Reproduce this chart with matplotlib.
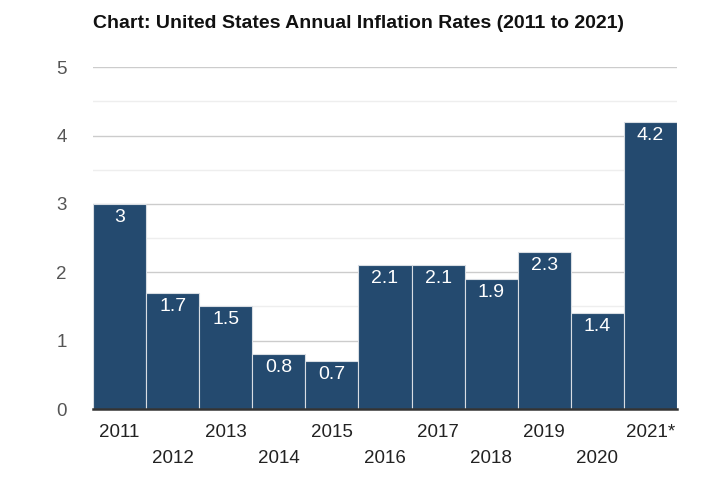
import matplotlib.pyplot as plt

years = ['2011', '2012', '2013', '2014', '2015', '2016', '2017', '2018', '2019', '2020', '2021*']
rates = [3, 1.7, 1.5, 0.8, 0.7, 2.1, 2.1, 1.9, 2.3, 1.4, 4.2]

plt.rcParams['font.family'] = ['Liberation Sans', 'DejaVu Sans']

fig = plt.figure(figsize=(7.03, 4.9), dpi=100)
ax = fig.add_axes([0.1323, 0.1653, 0.963 - 0.1323, 0.863 - 0.1653])

x = list(range(len(years)))
bars = ax.bar(x, rates, width=1.0, color='#244a6f', edgecolor='#d8dde3', linewidth=0.8, zorder=3)

ax.set_xlim(-0.5, len(years) - 0.5)
ax.set_ylim(0, 5)
ax.set_yticks([0, 1, 2, 3, 4, 5])
ax.set_yticks([0.5, 1.5, 2.5, 3.5, 4.5], minor=True)
ax.grid(axis='y', which='major', color='#cccccc', linewidth=1, zorder=0)
ax.grid(axis='y', which='minor', color='#eeeeee', linewidth=1, zorder=0)
ax.tick_params(axis='y', which='both', length=0, labelsize=13.5, labelcolor='#555555', pad=19)

for s in ['top', 'right', 'left']:
    ax.spines[s].set_visible(False)
ax.spines['bottom'].set_color('#333333')
ax.spines['bottom'].set_linewidth(1.8)
ax.spines['bottom'].set_zorder(4)

ax.set_xticks(x)
ax.set_xticklabels([])
ax.tick_params(axis='x', length=0)
for i, y in enumerate(years):
    off = -0.07 if i % 2 == 0 else -0.145
    ax.text(i, off, y, transform=ax.get_xaxis_transform(), ha='center', va='center',
            fontsize=13.5, color='#222222')

for b, v in zip(bars, rates):
    ax.text(b.get_x() + b.get_width() / 2, v - 0.07, f'{v:g}', ha='center', va='top',
            fontsize=14, color='white', zorder=5)

fig.text(93 / 703, 1 - 24 / 490, 'Chart: United States Annual Inflation Rates (2011 to 2021)',
         fontsize=14, fontweight='bold', ha='left', va='center', color='#111111')

fig.savefig('out.png', dpi=100)
